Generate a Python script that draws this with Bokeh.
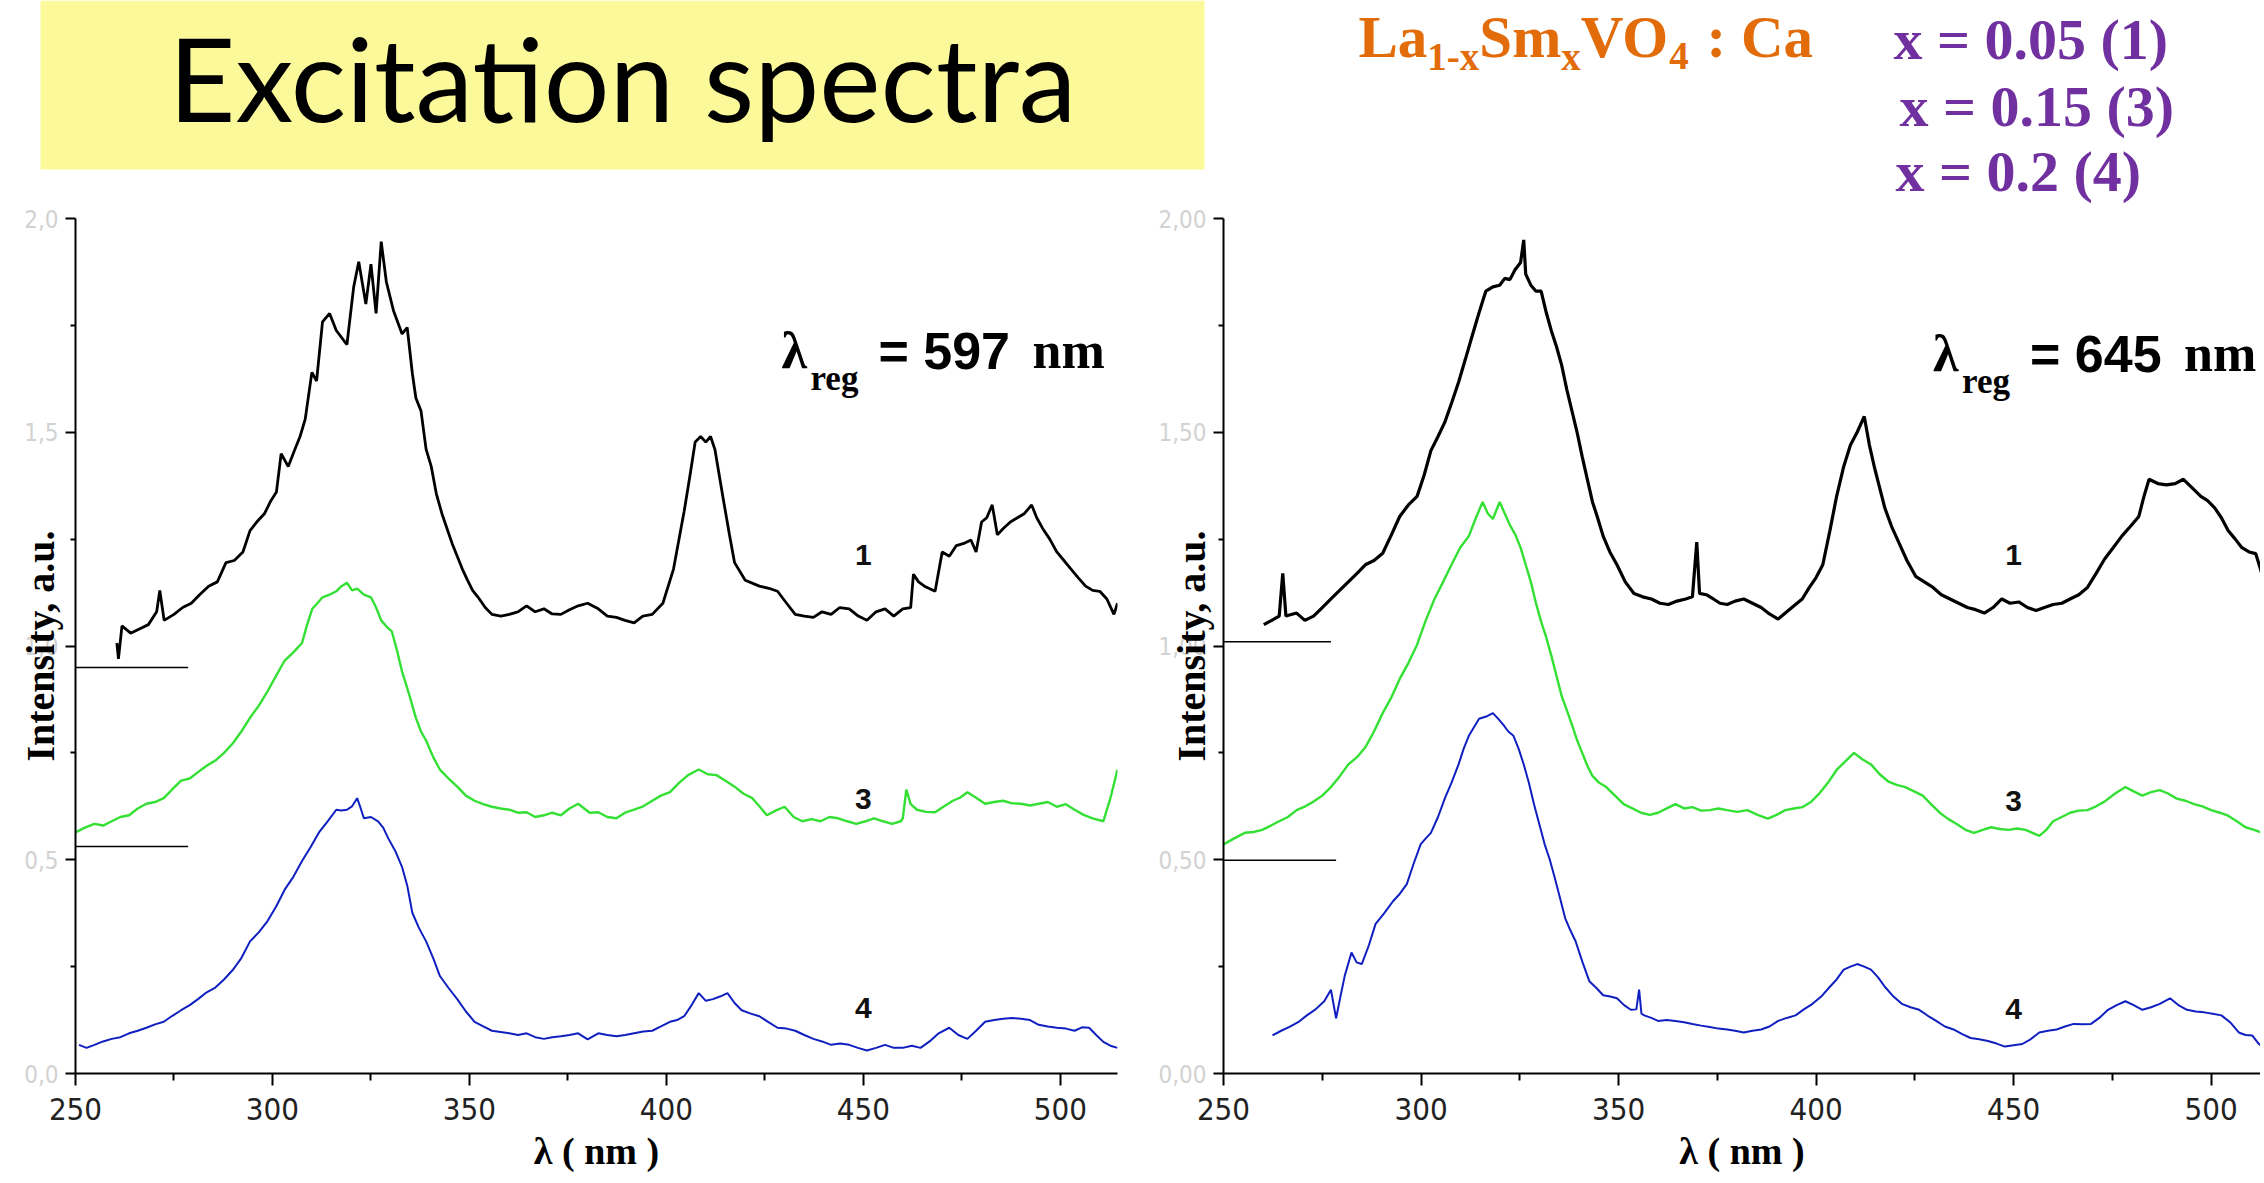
from bokeh.plotting import figure
from bokeh.layouts import column, row
from bokeh.models import Range1d, FixedTicker, CustomJSTickFormatter
from bokeh.embed import file_html
from bokeh.resources import INLINE
from bokeh.core.properties import value

# ---------------- data (wavelength nm, intensity a.u.) ----------------
left_curve_1 = [(260.5, 1.007), (260.9, 0.97), (261.8, 1.047), (264.0, 1.03), (266.2, 1.04), (268.5, 1.05), (270.6, 1.08), (271.4, 1.13), (272.5, 1.06), (275.0, 1.074), (277.2, 1.09), (279.4, 1.10), (281.5, 1.12), (283.8, 1.14), (286.0, 1.15), (288.2, 1.195), (290.3, 1.20), (292.5, 1.22), (294.3, 1.27), (296.0, 1.29), (298.0, 1.31), (299.6, 1.34), (301.0, 1.36), (302.2, 1.45), (304.0, 1.42), (305.7, 1.46), (307.0, 1.49), (308.3, 1.53), (310.0, 1.64), (311.2, 1.62), (312.7, 1.758), (314.5, 1.778), (316.2, 1.738), (318.9, 1.705), (320.6, 1.839), (321.9, 1.899), (323.7, 1.80), (325.0, 1.893), (326.3, 1.778), (327.6, 1.946), (328.9, 1.852), (330.7, 1.785), (332.9, 1.73), (334.2, 1.745), (335.5, 1.638), (336.4, 1.58), (337.7, 1.55), (339.0, 1.46), (340.3, 1.42), (341.6, 1.356), (343.0, 1.31), (344.3, 1.275), (345.6, 1.24), (346.9, 1.21), (348.2, 1.18), (349.5, 1.154), (350.8, 1.13), (352.2, 1.114), (354.0, 1.09), (355.7, 1.074), (358.0, 1.07), (360.1, 1.074), (362.3, 1.08), (364.5, 1.094), (366.7, 1.08), (368.9, 1.087), (371.0, 1.075), (373.2, 1.074), (375.4, 1.085), (377.6, 1.094), (380.0, 1.10), (382.7, 1.087), (385.0, 1.07), (387.3, 1.067), (389.5, 1.06), (391.8, 1.054), (394.0, 1.07), (396.4, 1.074), (399.1, 1.10), (401.8, 1.18), (404.5, 1.315), (406.0, 1.40), (407.3, 1.477), (408.7, 1.49), (410.0, 1.477), (411.2, 1.49), (412.3, 1.46), (413.4, 1.40), (414.5, 1.34), (416.0, 1.26), (417.3, 1.195), (420.0, 1.154), (423.6, 1.14), (426.0, 1.135), (428.2, 1.128), (430.5, 1.10), (432.7, 1.074), (435.0, 1.07), (437.3, 1.067), (439.5, 1.08), (441.8, 1.074), (444.0, 1.09), (446.4, 1.087), (448.7, 1.07), (450.9, 1.06), (453.2, 1.08), (455.5, 1.087), (457.7, 1.07), (460.0, 1.087), (462.0, 1.09), (462.7, 1.168), (464.0, 1.15), (465.5, 1.14), (468.2, 1.128), (470.0, 1.22), (471.8, 1.21), (473.6, 1.235), (475.5, 1.24), (477.3, 1.248), (478.6, 1.22), (480.0, 1.29), (481.3, 1.30), (482.7, 1.33), (484.0, 1.26), (485.5, 1.275), (487.3, 1.29), (489.1, 1.30), (490.9, 1.31), (492.7, 1.33), (494.0, 1.30), (495.5, 1.275), (497.3, 1.25), (499.1, 1.22), (500.9, 1.20), (502.7, 1.18), (504.5, 1.16), (506.4, 1.14), (508.2, 1.13), (510.0, 1.128), (511.8, 1.11), (513.6, 1.074), (514.5, 1.10)]

left_curve_3 = [(250.0, 0.564), (252.4, 0.575), (254.8, 0.584), (257.0, 0.58), (259.2, 0.59), (261.4, 0.60), (263.6, 0.604), (265.8, 0.62), (268.0, 0.631), (270.2, 0.635), (272.4, 0.644), (274.6, 0.665), (276.8, 0.685), (279.0, 0.69), (281.1, 0.705), (283.3, 0.72), (285.5, 0.732), (287.7, 0.75), (289.9, 0.772), (292.1, 0.80), (294.3, 0.832), (296.5, 0.86), (298.7, 0.893), (300.9, 0.93), (303.1, 0.966), (305.3, 0.985), (307.5, 1.007), (308.8, 1.05), (310.1, 1.087), (311.4, 1.10), (312.7, 1.114), (314.5, 1.12), (316.2, 1.128), (317.5, 1.14), (318.9, 1.148), (320.2, 1.13), (321.5, 1.134), (323.2, 1.12), (325.0, 1.114), (326.3, 1.09), (327.6, 1.06), (329.0, 1.045), (330.3, 1.034), (331.6, 0.99), (332.9, 0.94), (334.6, 0.89), (336.4, 0.832), (337.7, 0.80), (339.0, 0.779), (340.8, 0.74), (342.5, 0.711), (344.7, 0.69), (346.9, 0.671), (349.1, 0.65), (351.3, 0.638), (353.5, 0.63), (355.7, 0.624), (357.9, 0.62), (360.1, 0.617), (362.3, 0.61), (364.5, 0.611), (366.7, 0.60), (368.9, 0.604), (371.0, 0.61), (373.2, 0.604), (375.4, 0.62), (377.6, 0.631), (380.5, 0.61), (382.7, 0.611), (385.0, 0.60), (387.3, 0.597), (389.5, 0.61), (391.8, 0.617), (394.1, 0.625), (396.4, 0.638), (398.6, 0.65), (400.9, 0.658), (403.2, 0.68), (405.5, 0.698), (408.2, 0.711), (410.5, 0.70), (412.7, 0.698), (415.0, 0.685), (417.3, 0.671), (419.5, 0.655), (421.8, 0.644), (423.6, 0.625), (425.5, 0.604), (427.7, 0.615), (430.0, 0.624), (432.3, 0.60), (434.5, 0.59), (436.8, 0.595), (439.1, 0.59), (441.4, 0.60), (443.6, 0.597), (445.9, 0.59), (448.2, 0.584), (450.5, 0.59), (452.7, 0.597), (455.0, 0.59), (457.3, 0.584), (459.5, 0.59), (460.0, 0.597), (460.9, 0.664), (462.0, 0.63), (463.6, 0.617), (465.9, 0.612), (468.2, 0.611), (470.5, 0.625), (472.7, 0.638), (474.5, 0.645), (476.4, 0.658), (478.6, 0.645), (480.9, 0.631), (483.2, 0.635), (485.5, 0.638), (487.7, 0.632), (490.0, 0.631), (492.3, 0.627), (494.5, 0.631), (496.8, 0.635), (499.1, 0.624), (501.4, 0.63), (503.6, 0.617), (505.9, 0.605), (508.2, 0.597), (510.9, 0.59), (512.7, 0.644), (514.5, 0.711)]

left_curve_4 = [(250.9, 0.067), (252.8, 0.06), (254.8, 0.067), (257.0, 0.075), (259.2, 0.081), (261.4, 0.085), (263.6, 0.094), (265.8, 0.10), (268.0, 0.107), (270.2, 0.115), (272.4, 0.121), (274.6, 0.135), (276.8, 0.148), (279.0, 0.16), (281.1, 0.174), (283.3, 0.19), (285.5, 0.201), (287.7, 0.22), (289.9, 0.242), (292.1, 0.27), (294.3, 0.309), (296.5, 0.33), (298.7, 0.356), (300.9, 0.39), (303.1, 0.43), (305.3, 0.46), (307.5, 0.497), (309.7, 0.53), (311.8, 0.564), (314.0, 0.59), (316.2, 0.617), (317.5, 0.615), (318.9, 0.617), (320.2, 0.625), (321.5, 0.644), (322.4, 0.62), (323.2, 0.597), (325.0, 0.60), (326.8, 0.59), (328.1, 0.575), (329.4, 0.55), (331.2, 0.52), (332.9, 0.483), (334.2, 0.44), (335.5, 0.376), (337.2, 0.34), (339.0, 0.309), (340.8, 0.27), (342.5, 0.228), (344.7, 0.20), (346.9, 0.174), (349.1, 0.145), (351.3, 0.121), (353.5, 0.11), (355.7, 0.10), (357.9, 0.097), (360.1, 0.094), (362.3, 0.09), (364.5, 0.094), (366.7, 0.085), (368.9, 0.081), (371.0, 0.085), (373.2, 0.087), (375.4, 0.09), (377.6, 0.094), (380.0, 0.08), (382.7, 0.094), (385.0, 0.09), (387.3, 0.087), (389.5, 0.09), (391.8, 0.094), (394.1, 0.098), (396.4, 0.10), (398.6, 0.11), (400.9, 0.121), (402.7, 0.125), (404.5, 0.134), (406.4, 0.16), (408.2, 0.188), (410.0, 0.17), (411.8, 0.174), (413.6, 0.18), (415.5, 0.188), (417.3, 0.165), (419.1, 0.148), (421.4, 0.14), (423.6, 0.134), (425.9, 0.12), (428.2, 0.107), (430.5, 0.105), (432.7, 0.10), (435.0, 0.09), (437.3, 0.081), (439.5, 0.075), (441.8, 0.067), (444.1, 0.07), (446.4, 0.067), (448.6, 0.06), (450.9, 0.054), (453.2, 0.06), (455.5, 0.067), (457.7, 0.06), (460.0, 0.06), (462.3, 0.065), (464.5, 0.06), (466.8, 0.075), (469.1, 0.094), (471.8, 0.107), (474.1, 0.09), (476.4, 0.081), (478.6, 0.10), (480.9, 0.121), (483.2, 0.125), (485.5, 0.128), (487.7, 0.13), (490.0, 0.128), (492.3, 0.125), (494.5, 0.114), (496.8, 0.11), (499.1, 0.107), (501.4, 0.105), (503.6, 0.10), (505.5, 0.108), (507.3, 0.107), (509.1, 0.09), (510.9, 0.074), (512.7, 0.065), (514.5, 0.06)]

right_curve_1 = [(260.2, 1.05), (262.2, 1.06), (264.1, 1.07), (265.0, 1.17), (265.8, 1.07), (268.5, 1.077), (270.6, 1.06), (272.8, 1.07), (275.0, 1.09), (277.2, 1.11), (279.4, 1.13), (281.6, 1.15), (283.8, 1.17), (285.9, 1.19), (288.1, 1.20), (290.3, 1.217), (292.5, 1.26), (294.6, 1.303), (296.8, 1.33), (299.0, 1.35), (300.8, 1.40), (302.5, 1.457), (304.3, 1.49), (306.0, 1.523), (307.8, 1.57), (309.5, 1.617), (311.2, 1.67), (312.9, 1.724), (314.7, 1.78), (316.4, 1.83), (318.2, 1.84), (319.9, 1.844), (321.2, 1.86), (322.5, 1.857), (323.8, 1.88), (325.2, 1.897), (326.0, 1.95), (326.5, 1.87), (327.8, 1.844), (329.1, 1.83), (330.4, 1.83), (331.7, 1.78), (333.0, 1.737), (334.3, 1.70), (335.6, 1.657), (336.9, 1.60), (338.2, 1.55), (339.5, 1.50), (340.8, 1.443), (342.1, 1.39), (343.4, 1.337), (344.7, 1.30), (346.1, 1.257), (347.8, 1.22), (349.6, 1.19), (351.7, 1.15), (353.9, 1.123), (356.1, 1.115), (358.3, 1.11), (360.5, 1.10), (362.6, 1.097), (364.8, 1.105), (367.0, 1.11), (368.7, 1.115), (369.8, 1.243), (370.5, 1.123), (372.2, 1.12), (374.0, 1.11), (375.7, 1.10), (377.5, 1.097), (379.5, 1.105), (381.7, 1.11), (383.9, 1.10), (386.1, 1.09), (388.2, 1.075), (390.4, 1.063), (392.6, 1.08), (394.8, 1.097), (396.5, 1.11), (398.3, 1.137), (400.0, 1.16), (401.7, 1.19), (403.5, 1.27), (405.2, 1.35), (407.0, 1.42), (408.7, 1.47), (410.4, 1.50), (412.2, 1.537), (413.5, 1.47), (414.8, 1.417), (416.1, 1.37), (417.4, 1.323), (419.1, 1.28), (420.9, 1.243), (423.0, 1.20), (425.2, 1.163), (427.4, 1.15), (429.6, 1.137), (431.7, 1.12), (433.9, 1.11), (436.1, 1.10), (438.3, 1.09), (440.4, 1.085), (442.6, 1.077), (444.8, 1.09), (447.0, 1.11), (449.1, 1.10), (451.3, 1.103), (453.5, 1.09), (455.7, 1.083), (457.8, 1.09), (460.0, 1.097), (462.2, 1.10), (464.3, 1.11), (466.5, 1.12), (468.7, 1.137), (470.9, 1.17), (473.0, 1.203), (475.2, 1.23), (477.4, 1.257), (479.6, 1.28), (481.7, 1.303), (483.0, 1.35), (484.3, 1.39), (486.5, 1.38), (488.7, 1.377), (490.9, 1.38), (493.0, 1.39), (495.2, 1.37), (497.4, 1.35), (499.1, 1.34), (500.9, 1.323), (502.6, 1.30), (504.3, 1.27), (506.1, 1.25), (507.8, 1.23), (509.6, 1.22), (511.3, 1.216), (512.5, 1.18), (513.7, 1.137)]

right_curve_3 = [(250.0, 0.536), (252.7, 0.55), (255.4, 0.563), (257.6, 0.565), (259.8, 0.57), (262.0, 0.58), (264.1, 0.59), (266.3, 0.60), (268.5, 0.616), (270.7, 0.625), (272.8, 0.636), (275.0, 0.65), (277.2, 0.67), (279.4, 0.695), (281.6, 0.723), (283.8, 0.74), (285.9, 0.763), (288.1, 0.80), (290.3, 0.843), (292.5, 0.88), (294.6, 0.923), (296.8, 0.96), (299.0, 1.003), (301.2, 1.06), (303.4, 1.11), (305.6, 1.15), (307.7, 1.19), (309.9, 1.23), (312.1, 1.257), (313.9, 1.30), (315.6, 1.337), (316.9, 1.31), (318.2, 1.297), (319.9, 1.337), (321.2, 1.31), (322.5, 1.283), (323.9, 1.26), (325.2, 1.23), (326.5, 1.19), (327.8, 1.15), (329.1, 1.10), (330.4, 1.057), (331.7, 1.02), (333.0, 0.977), (334.3, 0.93), (335.6, 0.883), (336.9, 0.85), (338.2, 0.816), (339.5, 0.78), (340.8, 0.75), (342.1, 0.72), (343.4, 0.696), (345.1, 0.68), (346.9, 0.67), (349.1, 0.65), (351.3, 0.63), (353.5, 0.62), (355.7, 0.61), (357.9, 0.605), (360.0, 0.61), (362.2, 0.62), (364.4, 0.63), (366.6, 0.62), (368.7, 0.623), (370.9, 0.615), (373.1, 0.616), (375.3, 0.62), (377.5, 0.616), (380.0, 0.612), (382.6, 0.616), (385.2, 0.605), (387.8, 0.596), (390.0, 0.605), (392.2, 0.616), (394.4, 0.62), (396.5, 0.623), (398.7, 0.635), (400.9, 0.656), (403.0, 0.68), (405.2, 0.71), (407.4, 0.73), (409.6, 0.75), (411.7, 0.735), (413.9, 0.723), (416.1, 0.70), (418.3, 0.683), (420.4, 0.675), (422.6, 0.67), (424.8, 0.66), (427.0, 0.65), (429.1, 0.63), (431.3, 0.61), (433.5, 0.595), (435.7, 0.583), (437.8, 0.57), (440.0, 0.563), (442.2, 0.57), (444.3, 0.576), (446.5, 0.572), (448.7, 0.57), (450.9, 0.573), (453.0, 0.57), (454.8, 0.563), (456.5, 0.556), (458.3, 0.57), (460.0, 0.59), (462.2, 0.60), (464.3, 0.61), (466.5, 0.615), (468.7, 0.616), (470.9, 0.625), (473.0, 0.636), (475.7, 0.655), (478.3, 0.67), (480.4, 0.66), (482.6, 0.65), (484.8, 0.658), (487.0, 0.663), (489.1, 0.655), (491.3, 0.643), (493.5, 0.638), (495.7, 0.63), (497.8, 0.625), (500.0, 0.616), (502.2, 0.61), (504.3, 0.603), (506.5, 0.59), (508.7, 0.576), (510.9, 0.57), (513.0, 0.563)]

right_curve_4 = [(262.4, 0.089), (264.6, 0.10), (266.7, 0.109), (268.9, 0.12), (271.1, 0.136), (273.3, 0.15), (275.5, 0.169), (277.2, 0.196), (278.5, 0.129), (279.6, 0.18), (280.7, 0.229), (282.4, 0.283), (283.7, 0.26), (285.0, 0.256), (286.8, 0.30), (288.5, 0.35), (290.7, 0.375), (292.9, 0.403), (294.6, 0.42), (296.4, 0.443), (298.1, 0.49), (299.9, 0.536), (301.2, 0.55), (302.5, 0.563), (304.3, 0.60), (306.0, 0.643), (307.7, 0.68), (309.5, 0.723), (310.8, 0.76), (312.1, 0.79), (313.4, 0.81), (314.7, 0.83), (316.5, 0.835), (318.2, 0.843), (319.5, 0.83), (320.8, 0.816), (322.1, 0.80), (323.4, 0.79), (324.7, 0.76), (326.0, 0.723), (327.3, 0.68), (328.6, 0.63), (329.9, 0.585), (331.3, 0.536), (332.6, 0.50), (333.9, 0.456), (335.2, 0.41), (336.5, 0.363), (337.8, 0.335), (339.1, 0.31), (340.9, 0.26), (342.6, 0.216), (344.4, 0.20), (346.1, 0.183), (347.9, 0.18), (349.6, 0.176), (351.4, 0.16), (353.1, 0.149), (354.5, 0.15), (355.2, 0.196), (355.8, 0.14), (356.5, 0.136), (358.3, 0.13), (360.0, 0.123), (362.2, 0.125), (364.4, 0.123), (366.6, 0.12), (368.7, 0.116), (370.9, 0.112), (373.1, 0.109), (375.3, 0.105), (377.5, 0.103), (379.5, 0.10), (381.7, 0.096), (383.9, 0.10), (386.1, 0.103), (388.2, 0.11), (390.4, 0.123), (392.6, 0.13), (394.8, 0.136), (396.9, 0.15), (399.1, 0.163), (401.3, 0.18), (403.5, 0.203), (405.2, 0.22), (407.0, 0.243), (408.7, 0.25), (410.4, 0.256), (412.2, 0.25), (413.9, 0.243), (415.7, 0.225), (417.4, 0.203), (419.6, 0.18), (421.7, 0.163), (423.9, 0.155), (426.1, 0.149), (428.3, 0.135), (430.4, 0.123), (432.6, 0.11), (434.8, 0.103), (437.0, 0.092), (439.1, 0.083), (441.3, 0.08), (443.5, 0.076), (445.7, 0.07), (447.8, 0.063), (450.0, 0.066), (452.2, 0.069), (454.3, 0.08), (456.5, 0.096), (458.7, 0.10), (460.9, 0.103), (463.0, 0.11), (465.2, 0.116), (467.4, 0.115), (469.6, 0.116), (471.7, 0.13), (473.9, 0.149), (476.1, 0.16), (478.3, 0.169), (480.4, 0.16), (482.6, 0.149), (484.8, 0.155), (487.0, 0.163), (489.6, 0.176), (491.7, 0.16), (493.9, 0.149), (496.1, 0.145), (498.3, 0.143), (500.4, 0.14), (502.6, 0.136), (504.8, 0.12), (507.0, 0.096), (508.7, 0.09), (510.4, 0.089), (512.0, 0.07), (513.7, 0.056)]

# short horizontal reference stubs at the left of each panel: (level, end wavelength)
left_stubs = [(0.95, 278.6), (0.531, 278.6)]
right_stubs = [(1.01, 277.2), (0.499, 278.5)]

curve_numbers = ["1", "3", "4"]
number_levels_left = [1.213, 0.643, 0.154]
number_levels_right = [1.212, 0.638, 0.151]
number_wavelength = 450

x_ticks = [250, 300, 350, 400, 450, 500]
x_minor = [275, 325, 375, 425, 475, 525]
y_ticks = [0.0, 0.5, 1.0, 1.5, 2.0]
y_minor = [0.25, 0.75, 1.25, 1.75]

title_text = "Excitation spectra"
compositions = ["x = 0.05 (1)", "x = 0.15 (3)", "x = 0.2 (4)"]
reg_wavelengths = ["597", "645"]

# ---------------- styling ----------------
BLACK = "#000000"
GREEN = "#33E033"
BLUE = "#0F1FC0"
YELLOW = "#FCF99A"
ORANGE = "#E36C0A"
PURPLE = "#7030A0"
SERIF = "Liberation Serif"
NARROW = "Liberation Sans Narrow, DejaVu Sans Condensed, sans-serif"

PAGE_W = 2260
HEADER_H = 206
ROW_H = 974
BASE_K = 0.36      # text anchor sits this many em above the alphabetic baseline
BASE_K_T = 0.38    # same for the title font


def make_panel(width, mbl, mbr, mbt, mbb, x_end, digits, curves, stubs, levels, reg, ylab_standoff):
    p = figure(width=width, height=ROW_H, x_range=Range1d(250, x_end), y_range=Range1d(0, 2),
               output_backend="svg", toolbar_location=None,
               min_border_left=mbl, min_border_right=mbr, min_border_top=mbt, min_border_bottom=mbb)
    p.outline_line_color = None
    p.grid.visible = False
    p.background_fill_color = "white"
    p.border_fill_color = "white"

    xa = p.xaxis[0]
    xa.ticker = FixedTicker(ticks=x_ticks, minor_ticks=x_minor)
    xa.axis_line_width = 2
    xa.axis_line_color = BLACK
    xa.major_tick_line_width = 2
    xa.major_tick_line_color = BLACK
    xa.minor_tick_line_width = 2
    xa.minor_tick_line_color = BLACK
    xa.major_tick_out = 12
    xa.major_tick_in = 0
    xa.minor_tick_out = 7
    xa.minor_tick_in = 0
    xa.major_label_text_font = NARROW
    xa.major_label_text_font_size = "31px"
    xa.major_label_text_color = "#222222"
    xa.major_label_standoff = 12
    xa.axis_label = "λ ( nm )"
    xa.axis_label_text_font = SERIF
    xa.axis_label_text_font_style = "bold"
    xa.axis_label_text_font_size = "38px"
    xa.axis_label_text_color = BLACK
    xa.axis_label_standoff = 7

    ya = p.yaxis[0]
    ya.ticker = FixedTicker(ticks=y_ticks, minor_ticks=y_minor)
    ya.formatter = CustomJSTickFormatter(code="return tick.toFixed(%d).replace('.', ',');" % digits)
    ya.axis_line_width = 2
    ya.axis_line_color = BLACK
    ya.major_tick_line_width = 2
    ya.major_tick_line_color = BLACK
    ya.minor_tick_line_width = 2
    ya.minor_tick_line_color = BLACK
    ya.major_tick_out = 10
    ya.major_tick_in = 0
    ya.minor_tick_out = 5
    ya.minor_tick_in = 0
    ya.major_label_text_font = NARROW
    ya.major_label_text_font_size = "24px"
    ya.major_label_text_color = "#d2d2d2"
    ya.major_label_standoff = 7
    ya.axis_label = "Intensity, a.u."
    ya.axis_label_text_font = SERIF
    ya.axis_label_text_font_style = "bold"
    ya.axis_label_text_font_size = "40px"
    ya.axis_label_text_color = BLACK
    ya.axis_label_standoff = ylab_standoff

    for lvl, end in stubs:
        p.segment(x0=[250], y0=[lvl], x1=[end], y1=[lvl], line_color=BLACK, line_width=1.5)

    for (data, color, lw) in curves:
        wl = [d[0] for d in data]
        iv = [d[1] for d in data]
        p.line(wl, iv, line_color=color, line_width=lw)

    p.text(x=[number_wavelength] * 3, y=levels, text=curve_numbers,
           text_font=value("Liberation Sans"), text_font_style="bold", text_font_size="30px",
           text_align="center", text_baseline="middle", text_color="#111111")

    # lambda_reg annotation (anchor = baseline of the main line)
    lx, ly, num = reg
    big, small = 52, 35
    p.text(x=[lx], y=[ly], text=["λ"], y_offset=-BASE_K * big, text_font=value(SERIF),
           text_font_style="bold", text_font_size="%dpx" % big, text_baseline="alphabetic",
           text_align="left", text_color=BLACK)
    p.text(x=[lx], y=[ly], text=["reg"], x_offset=29, y_offset=22 - BASE_K * small,
           text_font=value(SERIF), text_font_style="bold", text_font_size="%dpx" % small,
           text_baseline="alphabetic", text_align="left", text_color=BLACK)
    p.text(x=[lx], y=[ly], text=["= " + num], x_offset=97, y_offset=-BASE_K * big,
           text_font=value("Liberation Sans"), text_font_style="bold", text_font_size="%dpx" % big,
           text_baseline="alphabetic", text_align="left", text_color=BLACK)
    p.text(x=[lx], y=[ly], text=["nm"], x_offset=251, y_offset=-BASE_K * big, text_font=value(SERIF),
           text_font_style="bold", text_font_size="%dpx" % big, text_baseline="alphabetic",
           text_align="left", text_color=BLACK)
    return p


left = make_panel(1140, 75, 23, 11, 107, 514.5, 1,
                  [(left_curve_1, BLACK, 2.8), (left_curve_3, GREEN, 2.4), (left_curve_4, BLUE, 2.0)],
                  left_stubs, number_levels_left, (429.2, 1.647, reg_wavelengths[0]), -42)
right = make_panel(1120, 83, 0, 12, 103, 512.5, 2,
                   [(right_curve_1, BLACK, 3.2), (right_curve_3, GREEN, 2.4), (right_curve_4, BLUE, 2.0)],
                   right_stubs, number_levels_right, (429.6, 1.640, reg_wavelengths[1]), -59)

# ---------------- header ----------------
h = figure(width=PAGE_W, height=HEADER_H, x_range=Range1d(0, PAGE_W), y_range=Range1d(HEADER_H, 0),
           output_backend="svg", toolbar_location=None, x_axis_location=None, y_axis_location=None,
           min_border=0)
h.outline_line_color = None
h.grid.visible = False
h.background_fill_color = "white"
h.border_fill_color = "white"

h.quad(left=[40], right=[1204], top=[0], bottom=[169], fill_color=YELLOW, line_color=None)
title_sz = 116
h.text(x=[622], y=[121 - BASE_K_T * title_sz], text=[title_text], text_font=value("Lato"),
       text_font_size="%dpx" % title_sz, text_baseline="alphabetic", text_align="center",
       text_color="#000000")

main_sz, sub_sz = 59, 39
pieces = [("La", False, 0), ("1-x", True, 0), ("Sm", False, 0), ("x", True, 0), ("VO", False, 0),
          ("4", True, 0), (": Ca", False, 0.3)]
char_w = {"L": 0.667, "a": 0.5, "S": 0.556, "m": 0.833, "V": 0.722, "O": 0.778, "C": 0.722,
          ":": 0.333, " ": 0.25, "1": 0.5, "-": 0.333, "x": 0.5, "4": 0.5}
cx = 1358
for txt, sub, gap in pieces:
    sz = sub_sz if sub else main_sz
    cx += gap * main_sz
    base = 70 if sub else 58
    h.text(x=[cx], y=[base - BASE_K * sz], text=[txt], text_font=value(SERIF),
           text_font_style="bold", text_font_size="%dpx" % sz, text_baseline="alphabetic",
           text_align="left", text_color=ORANGE)
    cx += sum(char_w.get(c, 0.5) for c in txt) * sz

for txt, xx, yy in zip(compositions, [1893, 1899, 1895], [60, 127, 192]):
    h.text(x=[xx], y=[yy - BASE_K * 58], text=[txt], text_font=value(SERIF), text_font_style="bold",
           text_font_size="58px", text_baseline="alphabetic", text_align="left", text_color=PURPLE)

layout = column(h, row(left, right, spacing=0), spacing=0)
open("out.html", "w").write(file_html(layout, INLINE))
